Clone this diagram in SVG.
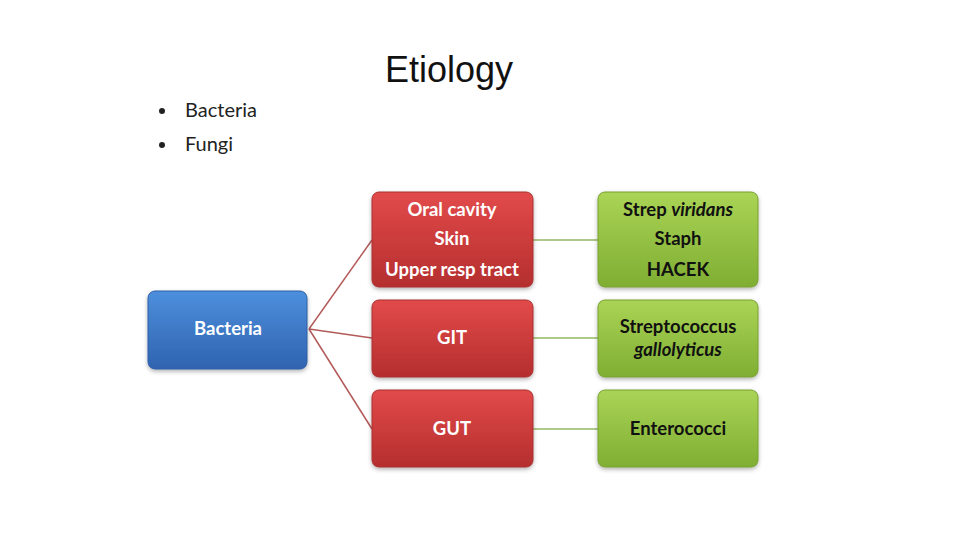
<svg xmlns="http://www.w3.org/2000/svg" width="960" height="540" viewBox="0 0 960 540">
<defs>
<linearGradient id="gBlue" x1="0" y1="0" x2="0" y2="1"><stop offset="0" stop-color="#4d8fdc"/><stop offset="1" stop-color="#2f63b0"/></linearGradient>
<linearGradient id="gRed" x1="0" y1="0" x2="0" y2="1"><stop offset="0" stop-color="#e24a4a"/><stop offset="1" stop-color="#b52e2e"/></linearGradient>
<linearGradient id="gGreen" x1="0" y1="0" x2="0" y2="1"><stop offset="0" stop-color="#aad455"/><stop offset="1" stop-color="#7fae33"/></linearGradient>
<filter id="sh" x="-10%" y="-10%" width="120%" height="130%"><feDropShadow dx="0" dy="2" stdDeviation="2" flood-color="#000" flood-opacity="0.3"/></filter>
</defs>
<style>
.t{font-family:Lato,"Open Sans",sans-serif;font-weight:bold;font-size:18.5px;text-anchor:middle}
.w{fill:#ffffff}
.k{fill:#111111}
.b{stroke-width:1;filter:url(#sh)}
.rl{stroke:#b35a5a;stroke-width:1.5;fill:none}
.gl{stroke:#93b865;stroke-width:1.5;fill:none}
</style>
<rect width="960" height="540" fill="#ffffff"/>
<text x="449" y="82" font-family="Liberation Sans,Arial,sans-serif" font-size="36" text-anchor="middle" fill="#111">Etiology</text>
<g font-family="Lato,'Open Sans',sans-serif" font-size="20" fill="#222">
<circle cx="162" cy="111" r="3"/>
<text x="185" y="117">Bacteria</text>
<circle cx="162" cy="145" r="3"/>
<text x="185" y="151">Fungi</text>
</g>
<g id="connectors">
<path class="rl" d="M309 329 L372 240"/>
<path class="rl" d="M309 329 L372 338"/>
<path class="rl" d="M309 329 L372 429"/>
<path class="gl" d="M533 240 L598 240"/>
<path class="gl" d="M533 338 L598 338"/>
<path class="gl" d="M533 429 L598 429"/>
</g>
<g id="n-bacteria">
<rect class="b" x="148" y="291" width="159" height="78" rx="7" fill="url(#gBlue)" stroke="#2e5fa6"/>
<text class="t w" x="228" y="335">Bacteria</text>
</g>
<g id="n-oral">
<rect class="b" x="372" y="192" width="161" height="95" rx="7" fill="url(#gRed)" stroke="#a83030"/>
<text class="t w" x="452" y="216">Oral cavity</text>
<text class="t w" x="452" y="245">Skin</text>
<text class="t w" x="452" y="276">Upper resp tract</text>
</g>
<g id="n-git">
<rect class="b" x="372" y="300" width="161" height="77" rx="7" fill="url(#gRed)" stroke="#a83030"/>
<text class="t w" x="452" y="344">GIT</text>
</g>
<g id="n-gut">
<rect class="b" x="372" y="390" width="161" height="77" rx="7" fill="url(#gRed)" stroke="#a83030"/>
<text class="t w" x="452" y="435">GUT</text>
</g>
<g id="n-strep">
<rect class="b" x="598" y="192" width="160" height="95" rx="7" fill="url(#gGreen)" stroke="#78a030"/>
<text class="t k" x="678" y="216">Strep <tspan font-style="italic">viridans</tspan></text>
<text class="t k" x="678" y="245">Staph</text>
<text class="t k" x="678" y="276">HACEK</text>
</g>
<g id="n-gallo">
<rect class="b" x="598" y="300" width="160" height="77" rx="7" fill="url(#gGreen)" stroke="#78a030"/>
<text class="t k" x="678" y="333">Streptococcus</text>
<text class="t k" x="678" y="356" font-style="italic">gallolyticus</text>
</g>
<g id="n-entero">
<rect class="b" x="598" y="390" width="160" height="77" rx="7" fill="url(#gGreen)" stroke="#78a030"/>
<text class="t k" x="678" y="435">Enterococci</text>
</g>
</svg>
